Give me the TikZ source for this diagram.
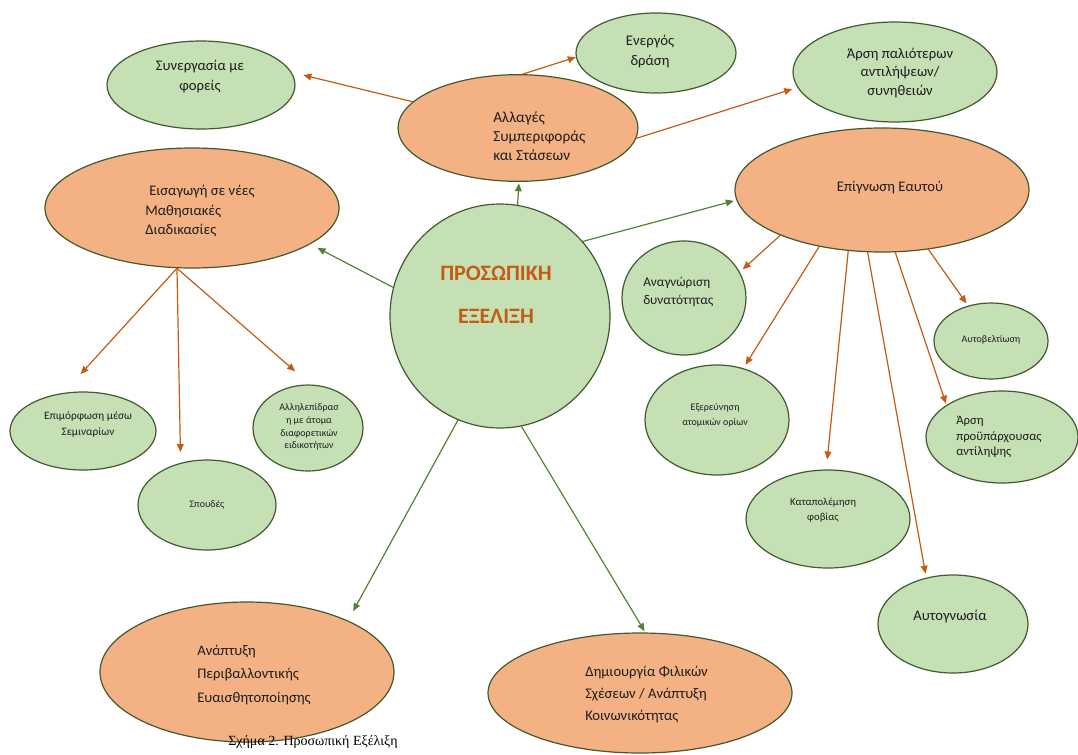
\documentclass[tikz,border=0pt]{standalone}
\usepackage{fontspec}
\usetikzlibrary{shapes.geometric,arrows.meta}
\newfontfamily\calf{Carlito}
\newfontfamily\tnrf{Liberation Serif}
\definecolor{gfill}{HTML}{C5E0B4}
\definecolor{ofill}{HTML}{F4B183}
\definecolor{bord}{HTML}{43592F}
\definecolor{oarr}{HTML}{C55A11}
\definecolor{garr}{HTML}{548235}
\definecolor{txtc}{HTML}{1E1E1E}
\definecolor{titc}{HTML}{C55A11}
\tikzset{
  ell/.style={ellipse, draw=bord, line width=0.9pt, inner sep=0pt},
  gell/.style={ell, fill=gfill},
  oell/.style={ell, fill=ofill},
  tx/.style={inner sep=0pt, text=txtc},
  oa/.style={draw=oarr, line width=0.9pt, -{Triangle[length=6pt,width=5pt]}},
  ga/.style={draw=garr, line width=0.9pt, -{Triangle[length=6pt,width=5pt]}},
}
\newcommand{\fs}[2]{\calf\fontsize{#1}{#2}\selectfont}
\begin{document}
\begin{tikzpicture}[x=0.75pt,y=-0.75pt]
\useasboundingbox (0,0) rectangle (1078,754);
% shapes
\node[gell, minimum width=141pt, minimum height=66pt] (syn) at (201,85) {};
\node[gell, minimum width=120pt, minimum height=60pt] (ener) at (656,53) {};
\node[oell, minimum width=180pt, minimum height=80pt] (allag) at (518,128) {};
\node[gell, minimum width=153pt, minimum height=75pt] (arsi) at (895,72) {};
\node[oell, minimum width=220.5pt, minimum height=93pt] (epig) at (882,190) {};
\node[oell, minimum width=220.5pt, minimum height=90pt] (eisag) at (192,208) {};
\node[gell, minimum width=165pt, minimum height=168pt] (prosw) at (500,316) {};
\node[gell, minimum width=93pt, minimum height=85.5pt] (anag) at (684,298) {};
\node[gell, minimum width=108pt, minimum height=82.5pt] (exer) at (717,420) {};
\node[gell, minimum width=85.5pt, minimum height=57pt] (autob) at (991,341) {};
\node[gell, minimum width=114pt, minimum height=69pt] (arsipro) at (1002,437) {};
\node[gell, minimum width=123pt, minimum height=73.5pt] (katap) at (828,519) {};
\node[gell, minimum width=112.5pt, minimum height=73.5pt] (autogn) at (953,624) {};
\node[oell, minimum width=220.5pt, minimum height=105pt] (anapt) at (247,672) {};
\node[oell, minimum width=228pt, minimum height=90pt] (dimi) at (640,693) {};
\node[gell, minimum width=109.5pt, minimum height=58.5pt] (epim) at (83,431) {};
\node[gell, minimum width=103.5pt, minimum height=67.5pt] (spoud) at (207,505) {};
\node[gell, minimum width=82.5pt, minimum height=64.5pt] (allil) at (308,428) {};
% texts
\node[tx, align=center, font=\fs{11}{15}] (tsyn) at (200,77) {Συνεργασία με\\φορείς};
\node[tx, align=center, font=\fs{11}{15}] (tener) at (650,52) {Ενεργός\\δράση};
\node[tx, align=left, anchor=west, font=\fs{11.5}{14.5}] (tallag) at (493,136) {Αλλαγές\\Συμπεριφοράς\\και Στάσεων};
\node[tx, align=center, font=\fs{11}{14}] (tarsi) at (900,73) {Άρση παλιότερων\\αντιλήψεων/\\συνηθειών};
\node[tx, font=\fs{11}{14}] (tepig) at (890,188) {Επίγνωση Εαυτού};
\node[tx, align=left, anchor=west, font=\fs{11}{14.5}] (teisag) at (145,211) {\hspace{3pt}Εισαγωγή σε νέες\\Μαθησιακές\\Διαδικασίες};
\node[tx, text=titc, font={\calf\bfseries\fontsize{16.5}{20}\selectfont}] (tp1) at (496,273) {ΠΡΟΣΩΠΙΚΗ};
\node[tx, text=titc, font={\calf\bfseries\fontsize{16.5}{20}\selectfont}] (tp2) at (496,316) {ΕΞΕΛΙΞΗ};
\node[tx, align=left, anchor=west, font=\fs{10}{14}] (tanag) at (643,292) {Αναγνώριση\\δυνατότητας};
\node[tx, align=center, font=\fs{7.5}{11}] (texer) at (715,415) {Εξερεύνηση\\ατομικών ορίων};
\node[tx, font=\fs{7.5}{11}] (tautob) at (991,340) {Αυτοβελτίωση};
\node[tx, align=left, anchor=west, font=\fs{9.5}{11.5}] (tarsipro) at (956,437) {Άρση\\προϋπάρχουσας\\αντίληψης};
\node[tx, align=center, font=\fs{8}{11.5}] (tkatap) at (823,510) {Καταπολέμηση\\φοβίας};
\node[tx, font=\fs{11}{14}] (tautogn) at (950,617) {Αυτογνωσία};
\node[tx, align=left, anchor=west, font=\fs{11}{17.5}] (tanapt) at (197,675) {Ανάπτυξη\\Περιβαλλοντικής\\Ευαισθητοποίησης};
\node[tx, align=left, anchor=west, font=\fs{11}{16.5}] (tdimi) at (585,695) {Δημιουργία Φιλικών\\Σχέσεων / Ανάπτυξη\\Κοινωνικότητας};
\node[tx, align=center, font=\fs{8.5}{12}] (tepim) at (88,424) {Επιμόρφωση μέσω\\Σεμιναρίων};
\node[tx, font=\fs{7.5}{11}] (tspoud) at (207,505) {Σπουδές};
\node[tx, align=center, font=\fs{7.5}{9.5}] (tallil) at (309,427) {Αλληλεπίδρασ\\η με άτομα\\διαφορετικών\\ειδικοτήτων};
\node[inner sep=0pt, font={\tnrf\fontsize{10.5}{12}\selectfont}, text=black] (capt) at (313,742) {Σχήμα 2. Προσωπική Εξέλιξη};
% connectors
\draw[ga, shorten >=1pt] (prosw.81) -- (allag.-89);
\draw[ga, shorten >=6pt] (prosw.165) -- (eisag.-17);
\draw[ga, shorten >=2pt] (prosw.42) -- (epig.184);
\draw[ga, shorten >=8pt] (prosw.-112) -- (anapt.27);
\draw[ga, shorten >=1pt] (prosw.-79) -- (dimi.85);
\draw[oa, shorten >=9pt] (allag.166) -- (syn.8);
\draw[oa] (allag.85) -- (ener.183);
\draw[oa, shorten >=4pt] (allag.-5) -- (arsi.189);
\draw[oa, shorten >=3pt] (epig.-156) -- (anag.25);
\draw[oa, shorten >=3pt] (epig.-138) -- (exer.63);
\draw[oa, shorten >=7.5pt] (epig.-119) -- (katap.92);
\draw[oa, shorten >=3pt] (epig.-103) -- (autogn.120);
\draw[oa, shorten >=1pt] (epig.-78) -- (arsipro.150);
\draw[oa, shorten >=2pt] (epig.-52) -- (autob.123);
\draw[oa, shorten >=19pt] (eisag.-104) -- (epim.117);
\draw[oa, shorten >=8pt] (eisag.-104) -- (spoud.122);
\draw[oa, shorten >=15pt] (eisag.-104) -- (allil.87);
\end{tikzpicture}
\end{document}
